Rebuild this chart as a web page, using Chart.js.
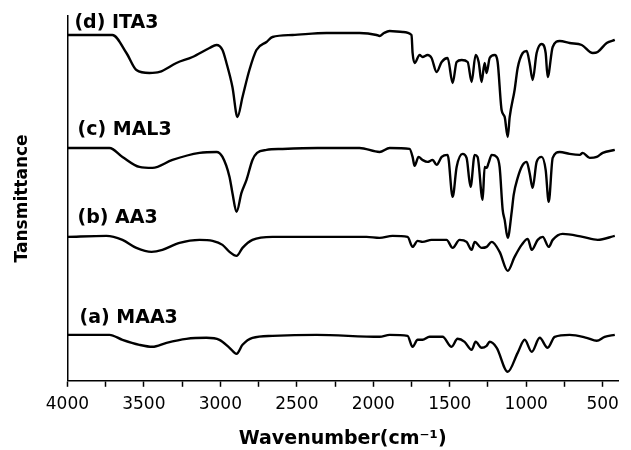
<!DOCTYPE html>
<html>
<head>
<meta charset="utf-8">
<script src="https://cdn.jsdelivr.net/npm/chart.js@4.4.1/dist/chart.umd.min.js"></script>
<style>
  html, body { margin: 0; padding: 0; background: #fff; }
</style>
</head>
<body>
<canvas id="ftirChart" width="631" height="450"></canvas>
<script>
// FTIR spectra (transmittance in arbitrary units, curves stacked)
const seriesNames = ['(a) MAA3', '(b) AA3', '(c) MAL3', '(d) ITA3'];

const maa3Wn = [4000, 3725, 3640, 3529, 3444, 3352, 3222, 3091, 3006, 2940, 2894, 2855, 2790, 2659, 2371, 1959, 1893, 1776, 1743, 1710, 1678, 1632, 1547, 1488, 1449, 1403, 1357, 1331, 1292, 1259, 1239, 1193, 1121, 1056, 1010, 964, 912, 860, 814, 716, 605, 539, 487, 421];
const maa3T  = [46, 46, 41, 36, 34, 38, 42, 43, 41, 33, 27, 36, 43, 45, 46, 44, 46, 45, 34, 41, 41, 44, 44, 34, 42, 39, 31, 39, 33, 35, 39, 33, 9, 28, 41, 29, 43, 33, 44, 46, 43, 40, 44, 46];

const aa3Wn = [4000, 3745, 3640, 3549, 3450, 3379, 3267, 3136, 3051, 2986, 2940, 2894, 2855, 2790, 2659, 2371, 2044, 1959, 1874, 1776, 1743, 1710, 1678, 1619, 1521, 1481, 1436, 1390, 1357, 1337, 1292, 1259, 1226, 1174, 1121, 1076, 1030, 990, 964, 925, 892, 853, 827, 762, 631, 533, 421];
const aa3T  = [144, 145, 141, 133, 129, 131, 138, 141, 140, 136, 129, 125, 133, 141, 144, 144, 144, 143, 145, 144, 134, 140, 139, 141, 141, 133, 141, 139, 131, 139, 133, 134, 139, 129, 110, 124, 136, 142, 131, 141, 144, 134, 141, 147, 144, 141, 145];

const mal3Wn = [4000, 3725, 3640, 3529, 3444, 3313, 3136, 3025, 2986, 2940, 2921, 2894, 2862, 2829, 2790, 2760, 2698, 2593, 2365, 2090, 1959, 1893, 1763, 1743, 1730, 1704, 1678, 1645, 1612, 1586, 1553, 1514, 1481, 1455, 1416, 1390, 1364, 1337, 1318, 1285, 1272, 1259, 1246, 1226, 1193, 1174, 1154, 1141, 1121, 1095, 1082, 1056, 1023, 997, 978, 958, 932, 899, 873, 853, 827, 781, 716, 650, 631, 585, 539, 500, 421];
const mal3T  = [233, 233, 224, 214, 213, 221, 228, 229, 224, 204, 188, 169, 188, 201, 221, 228, 231, 232, 233, 233, 229, 233, 232, 224, 215, 224, 221, 219, 221, 216, 224, 226, 184, 214, 227, 223, 194, 226, 224, 181, 214, 213, 218, 226, 224, 214, 171, 161, 143, 169, 186, 203, 216, 219, 208, 193, 219, 224, 211, 179, 223, 229, 227, 226, 228, 223, 224, 228, 231];

const ita3Wn = [4000, 3706, 3614, 3549, 3464, 3398, 3287, 3182, 3071, 3025, 2986, 2960, 2921, 2888, 2855, 2810, 2764, 2698, 2659, 2528, 2306, 2090, 1978, 1959, 1930, 1893, 1808, 1750, 1743, 1730, 1697, 1678, 1645, 1619, 1586, 1553, 1514, 1481, 1455, 1422, 1383, 1357, 1331, 1311, 1292, 1272, 1259, 1239, 1207, 1187, 1161, 1141, 1121, 1108, 1076, 1056, 1023, 997, 978, 958, 932, 899, 873, 860, 827, 781, 716, 637, 565, 533, 474, 421];
const ita3T  = [346, 346, 328, 311, 308, 309, 318, 324, 333, 336, 331, 318, 294, 264, 284, 311, 331, 339, 344, 346, 348, 348, 346, 345, 348, 350, 349, 346, 328, 318, 326, 324, 326, 323, 309, 319, 323, 298, 319, 321, 319, 299, 326, 319, 299, 318, 308, 323, 326, 319, 271, 264, 244, 264, 291, 313, 328, 330, 318, 301, 328, 337, 328, 304, 334, 340, 338, 336, 328, 329, 338, 341];

// where each curve's name is written (wavenumber, transmittance)
const labelWn = [3921, 3934, 3934, 3954];
const labelT  = [58, 158, 246, 353];

const toPoints = (wn, t) => wn.map((w, i) => ({ x: w, y: t[i] }));

const spectra = [
  toPoints(maa3Wn, maa3T),
  toPoints(aa3Wn, aa3T),
  toPoints(mal3Wn, mal3T),
  toPoints(ita3Wn, ita3T)
];

const seriesLabels = {
  id: 'seriesLabels',
  afterDatasetsDraw(chart) {
    const { ctx, scales: { x, y } } = chart;
    ctx.save();
    ctx.font = 'bold 19px "DejaVu Sans"';
    ctx.fillStyle = '#000';
    ctx.textBaseline = 'alphabetic';
    ctx.textAlign = 'left';
    seriesNames.forEach((name, i) => {
      ctx.fillText(name, x.getPixelForValue(labelWn[i]), y.getPixelForValue(labelT[i]));
    });
    ctx.restore();
  }
};

const ctx = document.getElementById('ftirChart').getContext('2d');
const ftirChart = new Chart(ctx, {
  type: 'line',
  data: {
    datasets: spectra.map((pts, i) => ({
      label: seriesNames[i],
      data: pts,
      borderColor: '#000',
      borderWidth: 2.4,
      pointRadius: 0,
      fill: false,
      cubicInterpolationMode: 'monotone'
    }))
  },
  options: {
    responsive: false,
    animation: false,
    layout: { padding: { left: 12, right: 13, top: 16, bottom: 0 } },
    plugins: {
      legend: { display: false },
      tooltip: { enabled: false }
    },
    scales: {
      x: {
        type: 'linear',
        reverse: true,
        min: 400,
        max: 4000,
        grid: {
          display: true,
          drawOnChartArea: false,
          drawTicks: true,
          tickLength: 6,
          tickWidth: 1.5,
          tickColor: '#000'
        },
        border: { display: true, color: '#000', width: 1.5 },
        ticks: {
          stepSize: 250,
          includeBounds: false,
          autoSkip: false,
          maxRotation: 0,
          padding: 8,
          color: '#000',
          font: { family: 'DejaVu Sans', size: 17 },
          callback: v => (v % 500 === 0 ? v : '')
        },
        title: {
          display: true,
          text: 'Wavenumber(cm\u207B\u00B9)',
          color: '#000',
          font: { family: 'DejaVu Sans', size: 19, weight: 'bold' },
          padding: { top: 4, bottom: 0 }
        }
      },
      y: {
        min: 0,
        max: 365,
        grid: { display: false, drawTicks: false },
        border: { display: true, color: '#000', width: 1.5 },
        ticks: { display: false },
        title: {
          display: true,
          text: 'Tansmittance',
          color: '#000',
          font: { family: 'DejaVu Sans', size: 17, weight: 'bold' },
          padding: { top: 0, bottom: 35 }
        }
      }
    }
  },
  plugins: [seriesLabels]
});
</script>
</body>
</html>
